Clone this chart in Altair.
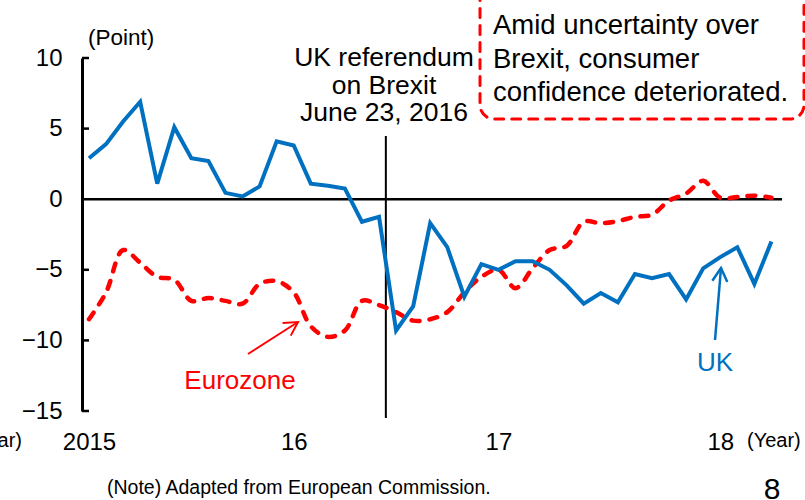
import altair as alt
import pandas as pd

# ---- data ----
months = list(range(41))  # Jan 2015 .. May 2018
uk = [2.9, 3.9, 5.5, 6.9, 1.1, 5.1, 2.9, 2.7, 0.45, 0.2, 0.9, 4.1, 3.8, 1.1, 0.95, 0.75,
      -1.6, -1.25, -9.3, -7.6, -1.7, -3.4, -6.9, -4.6, -5.0, -4.4, -4.4, -5.0, -6.1, -7.4,
      -6.65, -7.3, -5.3, -5.6, -5.3, -7.1, -4.9, -4.1, -3.4, -6.0, -3.0]
eurozone = [-8.5, -6.6, -3.6, -4.5, -5.5, -5.7, -7.2, -7.0, -7.2, -7.4, -6.0, -5.8, -6.6,
            -9.0, -9.75, -9.3, -7.2, -7.5, -8.0, -8.6, -8.5, -8.0, -6.6, -5.5, -5.0, -6.3,
            -4.9, -3.6, -3.3, -1.6, -1.7, -1.55, -1.25, -1.1, -0.1, 0.4, 1.3, 0.1, 0.15,
            0.25, 0.1]
year_ticks = [0, 12, 24, 37]
year_labels = ["2015", "16", "17", "18"]
y_ticks = [-15, -10, -5, 0, 5, 10]
inner_ticks = [-15, -10, -5, 5, 10]
zero_level = [0]
referendum_month = 17.4
referendum_span = [4.48, -15.5]

point_label = ["(Point)"]
year_unit = ["(Year)"]
ref_lines = ["UK referendum", "on Brexit", "June 23, 2016"]
box_lines = ["Amid uncertainty over", "Brexit, consumer", "confidence deteriorated."]
ez_label = ["Eurozone"]
uk_label = ["UK"]
note = ["(Note) Adapted from European Commission."]
page = ["8"]

BLUE = "#0070C0"
RED = "#FF0000"
FONT = "Liberation Sans"

W, H = 700, 353

df = pd.DataFrame({"m": months, "uk": uk, "ez": eurozone})
one = pd.DataFrame({"k": [0]})

xs = alt.Scale(domain=[-0.41, 40.62], nice=False, zero=False)
ys = alt.Scale(domain=[-15, 10], nice=False, zero=False)

label_expr = "".join(f"datum.value == {v} ? '{l}' : " for v, l in zip(year_ticks[:-1], year_labels[:-1])) + f"'{year_labels[-1]}'"

x_axis = alt.Axis(values=year_ticks, labelExpr=label_expr, domain=False, ticks=False, grid=False,
                  labelFont=FONT, labelFontSize=24, labelFontWeight="normal", labelColor="black",
                  labelBaseline="alphabetic", labelPadding=38, labelFlush=False,
                  labelOverlap=False, title=None)
y_axis = alt.Axis(values=y_ticks, domain=True, domainColor="black", domainWidth=3,
                  ticks=False, grid=False, labelFont=FONT, labelFontSize=24,
                  labelFontWeight="normal", labelColor="black", labelPadding=20, title=None)


def X(field):
    return alt.X(field, scale=xs, axis=x_axis)


def Y(field):
    return alt.Y(field, scale=ys, axis=y_axis)


uk_line = alt.Chart(df).mark_line(color=BLUE, strokeWidth=4).encode(x=X("m:Q"), y=Y("uk:Q"))
ez_line = alt.Chart(df).mark_line(color=RED, strokeWidth=4.5, strokeDash=[8, 10],
                                  strokeCap="round", interpolate="catmull-rom").encode(
    x=X("m:Q"), y=Y("ez:Q"))

zero_line = alt.Chart(pd.DataFrame({"z": zero_level})).mark_rule(color="black", strokeWidth=2.5).encode(
    y=Y("z:Q"), x=alt.value(0), x2=alt.value(W))

ticks = alt.Chart(pd.DataFrame({"v": inner_ticks})).mark_rule(color="black", strokeWidth=2.5).encode(
    y=Y("v:Q"), x=alt.value(0), x2=alt.value(7))

ref_df = pd.DataFrame({"m": [referendum_month], "y1": [referendum_span[0]], "y2": [referendum_span[1]]})
ref_line = alt.Chart(ref_df).mark_rule(color="black", strokeWidth=2).encode(
    x=X("m:Q"), y=Y("y1:Q"), y2="y2:Q")


def text_layer(lines, x, y, size, color="black", align="left", baseline="alphabetic", lh=None, font=FONT):
    kw = dict(text=lines if len(lines) > 1 else lines[0], fontSize=size, color=color,
              align=align, baseline=baseline, font=font)
    if lh:
        kw["lineHeight"] = lh
    return alt.Chart(one).mark_text(**kw).encode(x=alt.value(x), y=alt.value(y))


box = alt.Chart(one).mark_rect(fill="white", stroke=RED, strokeWidth=3, strokeDash=[9, 8],
                               strokeCap="round", cornerRadius=14).encode(
    x=alt.value(398), x2=alt.value(722), y=alt.value(-72), y2=alt.value(61))


def arrow(x1, y1, x2, y2, angle, color, width):
    line = alt.Chart(one).mark_rule(color=color, strokeWidth=width).encode(
        x=alt.value(x1), y=alt.value(y1), x2=alt.value(x2), y2=alt.value(y2))
    head = alt.Chart(one).mark_point(shape="M -0.5 0.9 L 0 0 L 0.5 0.9", filled=False,
                                     color=color, strokeWidth=width, size=900, angle=angle,
                                     opacity=1).encode(x=alt.value(x2), y=alt.value(y2))
    return line + head


layers = [
    zero_line,
    box,
    ticks,
    ref_line,
    ez_line,
    uk_line,
    text_layer(point_label, 6, -13, 22.5),
    text_layer(ref_lines, 302, 8, 26.5, align="center", lh=27.5),
    text_layer(box_lines, 411, -24, 27.5, lh=33.5),
    text_layer(ez_label, 158, 331, 26, color=RED, align="center"),
    text_layer(uk_label, 633, 313, 26, color=BLUE, align="center"),
    arrow(166, 296, 216, 264, 57, RED, 2),
    arrow(633, 282, 639, 210, 5, BLUE, 2.5),
    text_layer(year_unit, 665, 389, 20),
    text_layer(year_unit, -60, 389, 20, align="right"),
    text_layer(note, 25, 436, 19.5),
    text_layer(page, 690, 441, 30, align="center"),
]

chart = alt.layer(*layers).properties(
    width=W, height=H, autosize="none",
    padding={"left": 82, "top": 58, "right": 23, "bottom": 89},
).configure_view(stroke=None)

chart.save("out.html", embed_options={"renderer": "svg", "actions": False})
